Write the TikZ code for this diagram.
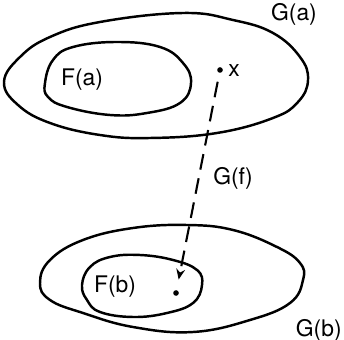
\documentclass[tikz,border=0pt]{standalone}
\usepackage{fontspec}
\setmainfont{TeX Gyre Heros}
\usetikzlibrary{arrows.meta}

\begin{document}
\begin{tikzpicture}[x=0.02cm,y=-0.02cm,
  blob/.style={line width=1.4pt},
  pt/.style={circle,fill=black,inner sep=0pt,minimum size=3.2pt},
  lbl/.style={font=\fontsize{13}{15}\selectfont,inner sep=0pt}]
  \useasboundingbox(0,0) rectangle(344,340);
  % G(a) and F(a)
  \draw[blob] plot[smooth cycle,tension=.7] coordinates{(4,82)(20,57)(50,37)(100,22)(183,13)(233,20)(273,33)(300,57)(308,80)(298,102)(273,118)(217,133)(150,138)(100,135)(50,123)(18,105)};
  \draw[blob] plot[smooth cycle,tension=.7] coordinates{(45,83)(53,60)(73,47)(117,42)(160,47)(183,63)(191,83)(180,103)(147,113)(110,115)(67,107)(48,97)};
  % G(b) and F(b)
  \draw[blob] plot[smooth cycle,tension=.7] coordinates{(40,283)(50,260)(83,240)(133,228)(187,225)(233,230)(277,247)(300,263)(303,280)(290,303)(250,320)(193,332)(133,327)(83,313)(50,300)};
  \draw[blob] plot[smooth cycle,tension=.7] coordinates{(82,285)(90,267)(110,257)(140,255)(173,260)(197,270)(202,285)(193,303)(167,313)(133,317)(100,312)(87,300)};
  \node[pt] (px) at(220,70){};
  \node[pt] (pfx) at(176,293){};
  \draw[line width=1.2pt,dash pattern=on 9pt off 5pt,-{Stealth[length=6pt,width=5pt]},
    shorten <=5pt,shorten >=6pt] (px) -- (pfx);
  \node[lbl] (ga) at(294,14){G(a)};
  \node[lbl] (fa) at(82,80){F(a)};
  \node[lbl,anchor=west] (xl) at(228,71){x};
  \node[lbl] (gf) at(233,178){G(f)};
  \node[lbl] (fb) at(115,287){F(b)};
  \node[lbl,anchor=east] (gb) at(342,330){G(b)};
\end{tikzpicture}
\end{document}
